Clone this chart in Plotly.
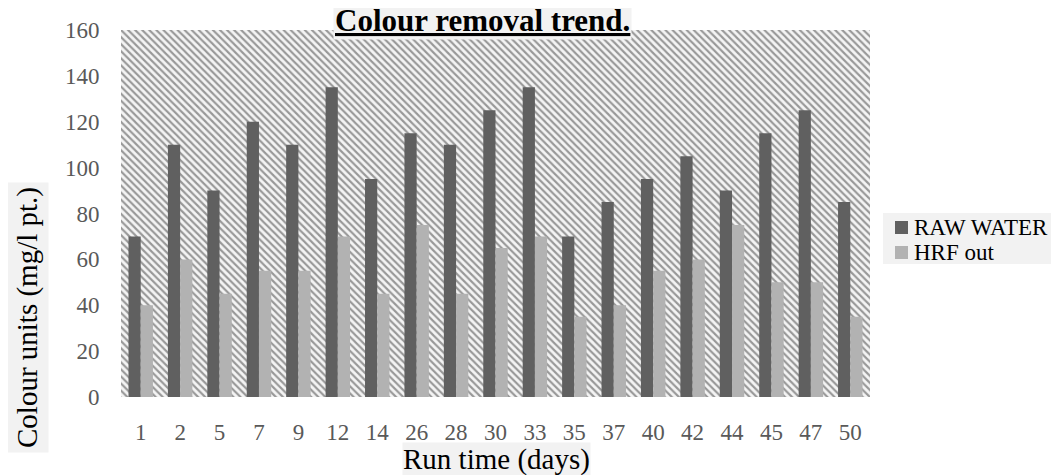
import plotly.graph_objects as go

days = ["1", "2", "5", "7", "9", "12", "14", "26", "28", "30", "33", "35", "37", "40", "42", "44", "45", "47", "50"]
raw_water = [70, 110, 90, 120, 110, 135, 95, 115, 110, 125, 135, 70, 85, 95, 105, 90, 115, 125, 85]
hrf_out = [40, 60, 45, 55, 55, 70, 45, 75, 45, 65, 70, 35, 40, 55, 60, 75, 50, 50, 35]
y_ticks = [0, 20, 40, 60, 80, 100, 120, 140, 160]
series_names = ["RAW WATER", "HRF out"]
series_colors = ["#606060", "#b2b2b2"]

FONT = "Liberation Serif"
OFF = 8  # page body margin
W, H = 1059 - OFF, 475 - OFF
PL, PR, PT, PB = 121, 870, 30, 397  # plot area in screenshot pixels
L, T = PL - OFF, PT - OFF
R = W - (PR - OFF)
B = H - (PB - OFF)


def px(x):
    return (x - PL) / (PR - PL)


def py(y):
    return (PB - y) / (PB - PT)


fig = go.Figure()

# hatched plot-area background (decorative, on a hidden numeric axis)
fig.add_trace(go.Bar(
    x=[0.5], y=[max(y_ticks)], width=[1], xaxis="x", yaxis="y",
    marker=dict(color="#f4f4f4", line=dict(width=0),
                pattern=dict(shape="\\", fgcolor="#3c3c3c", bgcolor="#f4f4f4",
                             size=5, solidity=0.42)),
    showlegend=False, hoverinfo="skip",
))

for name, vals, col in zip(series_names, [raw_water, hrf_out], series_colors):
    fig.add_trace(go.Bar(name=name, x=days, y=vals, xaxis="x2", yaxis="y",
                         marker=dict(color=col, line=dict(width=0)), showlegend=False))

# manual legend (box, swatches, labels)
shapes = [dict(type="rect", xref="paper", yref="paper",
               x0=px(883), x1=px(1054), y0=py(264), y1=py(213),
               fillcolor="#f2f2f2", line=dict(width=0), layer="below")]
annotations = []
for i, (name, col) in enumerate(zip(series_names, series_colors)):
    yc = 227.5 + 25 * i
    shapes.append(dict(type="rect", xref="paper", yref="paper",
                       x0=px(895), x1=px(908), y0=py(yc + 6.5), y1=py(yc - 6.5),
                       fillcolor=col, line=dict(width=0)))
    annotations.append(dict(text=name, x=px(912), y=py(yc), xref="paper", yref="paper",
                            xanchor="left", yanchor="middle", showarrow=False,
                            font=dict(family=FONT, size=23, color="#000000")))

annotations += [
    dict(text="<b><u>Colour removal trend.</u></b>", x=px(482), y=py(21),
         xref="paper", yref="paper", xanchor="center", yanchor="middle",
         showarrow=False, bgcolor="#f2f2f2", borderpad=1,
         font=dict(family=FONT, size=31, color="#000000")),
    dict(text="Colour units (mg/l pt.)", x=px(27), y=py(318), textangle=-90,
         xref="paper", yref="paper", xanchor="center", yanchor="middle",
         showarrow=False, bgcolor="#f2f2f2", borderpad=4,
         font=dict(family=FONT, size=29, color="#000000")),
    dict(text="Run time (days)", x=px(496), y=py(459),
         xref="paper", yref="paper", xanchor="center", yanchor="middle",
         showarrow=False, bgcolor="#f2f2f2", borderpad=0,
         font=dict(family=FONT, size=29, color="#000000")),
]

fig.update_layout(
    width=W, height=H,
    margin=dict(l=L, r=R, t=T, b=B, pad=0, autoexpand=False),
    paper_bgcolor="white", plot_bgcolor="white",
    barmode="group", bargap=0.38, bargroupgap=0,
    font=dict(family=FONT, color="#595959", size=23),
    xaxis=dict(range=[0, 1], visible=False, fixedrange=True),
    xaxis2=dict(overlaying="x", type="category", showgrid=False, zeroline=False,
                showline=False, ticks="outside", ticklen=14, tickcolor="rgba(0,0,0,0)",
                tickfont=dict(family=FONT, size=23, color="#595959"), side="bottom"),
    yaxis=dict(range=[0, 160], tickvals=y_ticks, showgrid=False, zeroline=False,
               showline=False, ticks="outside", ticklen=16, tickcolor="rgba(0,0,0,0)",
               tickfont=dict(family=FONT, size=23, color="#595959")),
    showlegend=False,
    shapes=shapes,
    annotations=annotations,
)

fig.write_html("out.html")
